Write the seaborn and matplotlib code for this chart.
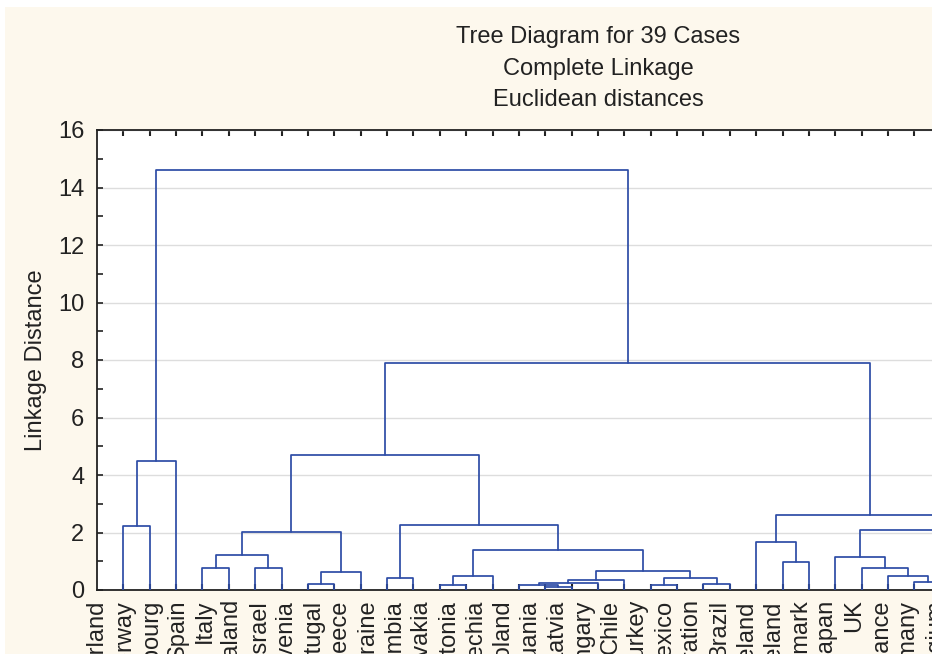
import numpy as np
import pandas as pd
import matplotlib
matplotlib.use("Agg")
import matplotlib.pyplot as plt
from matplotlib.patches import Rectangle
from matplotlib.ticker import MultipleLocator
import seaborn as sns

# leaves in tree order (left to right)
paises = ['Switzerland', 'Norway', 'Luxembourg', 'Spain', 'Italy', 'New Zealand',
          'Israel', 'Slovenia', 'Portugal', 'Greece', 'Ukraine', 'Colombia',
          'Slovakia', 'Estonia', 'Czechia', 'Poland', 'Lithuania', 'Latvia',
          'Hungary', 'Chile', 'Turkey', 'Mexico', 'Russian Federation', 'Brazil',
          'Ireland', 'Iceland', 'Denmark', 'Japan', 'UK', 'France', 'Germany',
          'Belgium', 'Austria', 'Netherlands', 'Sweden', 'Finland', 'Canada',
          'Australia', 'USA']

# merges: node a, node b, linkage distance (new node id = 39 + row)
no_a = [17, 16, 40, 41, 21, 23, 43, 42, 13, 47, 48, 11, 50, 8, 52, 4, 6, 54, 56, 57,
        1, 59, 31, 30, 29, 28, 26, 25, 34, 67, 33, 69, 70, 64, 66, 58, 60]
no_b = [18, 39, 19, 20, 22, 24, 44, 45, 14, 15, 46, 12, 49, 9, 10, 5, 7, 55, 53, 51,
        2, 3, 32, 61, 62, 63, 27, 65, 35, 36, 68, 37, 38, 71, 72, 73, 74]
distancia = [0.11, 0.18, 0.26, 0.36, 0.18, 0.22, 0.41, 0.65, 0.17, 0.47, 1.39, 0.42,
             2.27, 0.22, 0.64, 0.76, 0.77, 1.23, 2.01, 4.70, 2.24, 4.50, 0.29, 0.48,
             0.78, 1.14, 0.97, 1.68, 0.35, 0.60, 0.90, 1.20, 1.60, 2.09, 2.60, 7.90,
             14.60]

n = len(paises)
pos_x = {i: float(i) for i in range(n)}
altura = {i: 0.0 for i in range(n)}
linhas = []
for k, (a, b, d) in enumerate(zip(no_a, no_b, distancia)):
    no = n + k
    pos_x[no] = (pos_x[a] + pos_x[b]) / 2
    altura[no] = d
    xs = [pos_x[a], pos_x[a], pos_x[b], pos_x[b]]
    ys = [altura[a], d, d, altura[b]]
    for j, (x, y) in enumerate(zip(xs, ys)):
        linhas.append({'seg': k, 'ordem': j, 'x': x, 'y': y})
df_linhas = pd.DataFrame(linhas)

sns.set_theme(style="white")
plt.rcParams['font.family'] = ['Liberation Sans', 'DejaVu Sans']

fig = plt.figure(figsize=(9.32, 6.54), dpi=100, facecolor='white')
fig.patches.append(Rectangle((5 / 932, 0), 1, 647 / 654, transform=fig.transFigure,
                             facecolor='#fdf8ed', edgecolor='none', zorder=-10))
ax = fig.add_axes([97 / 932, 64 / 654, 1002 / 932, 460 / 654])
ax.set_facecolor('white')

sns.lineplot(data=df_linhas, x='x', y='y', units='seg', estimator=None, sort=False,
             color='#2d4ca6', lw=1.25, ax=ax, legend=False, zorder=3)

ax.yaxis.set_major_locator(MultipleLocator(2))
ax.yaxis.set_minor_locator(MultipleLocator(1))
# labels in the reference sit on a slightly wider step than the leaves
ax.set_xticks(np.arange(n) * 1.025)
ax.set_xticklabels(paises, rotation=90, fontsize=17, color='#222222')
ax.set_xticks(np.arange(n), minor=True)
ax.set_xlim(0, n - 1)
ax.set_ylim(0, 16)
ax.tick_params(axis='x', which='major', length=0, pad=7)
ax.tick_params(axis='x', which='minor', direction='in', length=4, width=1.5,
               top=True, bottom=True, color='#222222')
ax.tick_params(axis='y', which='both', direction='in', length=4, width=1.2,
               left=True, color='#222222')
ax.tick_params(axis='y', which='major', labelsize=17, pad=9, labelcolor='#222222')
ax.yaxis.grid(True, color='#dddddd', lw=1)
ax.set_axisbelow(True)
for s in ax.spines.values():
    s.set_color('#222222')
    s.set_linewidth(1.3)

ax.set_xlabel('')
ax.set_ylabel('Linkage Distance', fontsize=17, labelpad=8, color='#222222')
ax.set_title('Tree Diagram for 39 Cases\nComplete Linkage\nEuclidean distances',
             fontsize=17, linespacing=1.58, pad=17, color='#222222')

fig.savefig('out.png', dpi=100, facecolor=fig.get_facecolor())
